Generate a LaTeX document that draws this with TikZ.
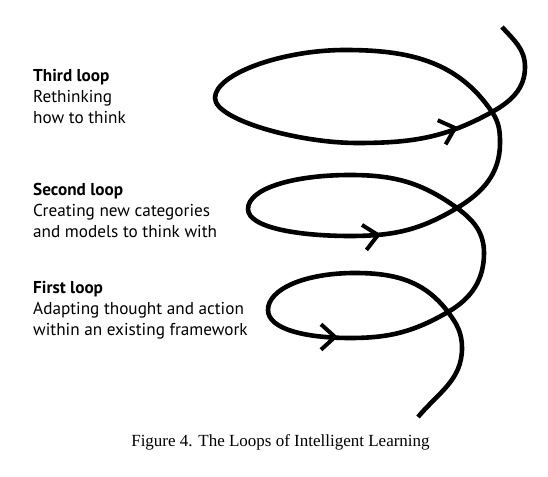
\documentclass[tikz,border=0pt]{standalone}
\usepackage{fontspec}
\setmainfont{Liberation Serif}
\newfontfamily\labelfont{PT Sans}
\begin{document}
\begin{tikzpicture}[x=1pt,y=1pt,
  spiral/.style={line width=4.6pt},
  chevron/.style={line width=4pt,line join=round},
  lbl/.style={anchor=base west,inner sep=0pt,font=\labelfont\fontsize{17.2}{20}\selectfont},
  lblb/.style={lbl,font=\labelfont\bfseries\fontsize{17.2}{20}\selectfont},
  captionstyle/.style={anchor=base,inner sep=0pt,font=\fontsize{17}{20}\selectfont}]
\useasboundingbox (0,0) rectangle (548,476);
% key points of the spiral
\coordinate (A) at (418,59);
\coordinate (B) at (462,128);
\coordinate (C) at (448,164);
\coordinate (D) at (355,203);
\coordinate (F) at (268,166);
\coordinate (H) at (350,138);
\coordinate (J) at (484,223);
\coordinate (K) at (457,268);
\coordinate (L) at (350,301);
\coordinate (N) at (248,267);
\coordinate (P) at (350,240);
\coordinate (R) at (500,333);
\coordinate (S) at (492,364);
\coordinate (T) at (345,426);
\coordinate (V) at (215,378);
\coordinate (X) at (357,333);
\coordinate (Z) at (525,409);
\coordinate (End) at (502,449);
\draw[spiral] (A) to[out=50,in=-90] (B) to[out=90,in=-53] (C) to[out=127,in=0] (D)
  to[out=180,in=90,out distance=50pt,in distance=21pt] (F)
  to[out=-90,in=180,out distance=19pt,in distance=45pt] (H)
  to[out=0,in=210] (C) to[out=30,in=-90] (J)
  to[out=90,in=-36] (K) to[out=144,in=0] (L)
  to[out=180,in=90,out distance=55pt,in distance=21pt] (N)
  to[out=-90,in=180,out distance=19pt,in distance=50pt] (P)
  to[out=0,in=211] (K) to[out=31,in=-90] (R) to[out=90,in=-56] (S)
  to[out=124,in=0] (T)
  to[out=180,in=90,out distance=63pt,in distance=24pt] (V)
  to[out=-90,in=180,out distance=22pt,in distance=58pt] (X)
  to[out=0,in=209] (S)
  to[out=29,in=-90] (Z) to[out=90,in=-48] (End);
% arrow heads
\draw[chevron,shift={(335,139)},rotate=0] (-14,12.7) -- (0,0) -- (-14,-12.7);
\draw[chevron,shift={(378,241)},rotate=10] (-14,12.7) -- (0,0) -- (-14,-12.7);
\draw[chevron,shift={(455,348)},rotate=18] (-14,12.7) -- (0,0) -- (-14,-12.7);
% labels
\node[lblb] (t3) at (33,394.5) {Third loop};
\node[lbl] (t3a) at (33,373) {Rethinking};
\node[lbl] (t3b) at (33,352) {how to think};
\node[lblb] (t2) at (33,280.5) {Second loop};
\node[lbl] (t2a) at (33,259) {Creating new categories};
\node[lbl] (t2b) at (33,238) {and models to think with};
\node[lblb] (t1) at (33,182.5) {First loop};
\node[lbl] (t1a) at (33,161) {Adapting thought and action};
\node[lbl] (t1b) at (33,140.5) {within an existing framework};
\node[captionstyle] (caption) at (280.5,29.3) {Figure 4. The Loops of Intelligent Learning};
\end{tikzpicture}
\end{document}
